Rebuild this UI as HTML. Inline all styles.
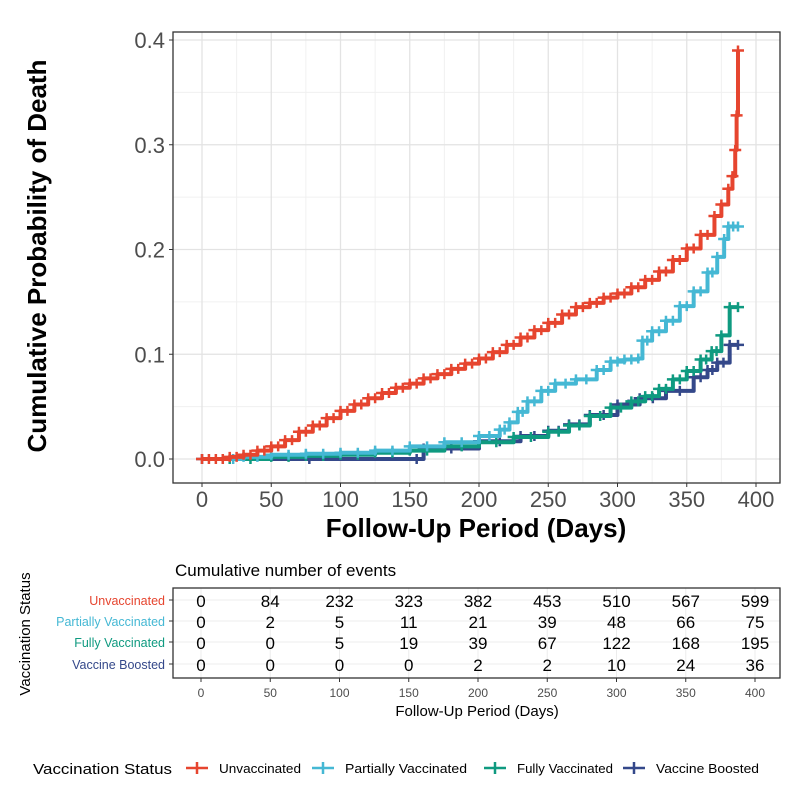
<!DOCTYPE html>
<html><head><meta charset="utf-8"><style>
body{margin:0;background:#fff;}
svg{display:block;font-family:"Liberation Sans",sans-serif;}
</style></head><body>
<svg id="c" width="800" height="800" viewBox="0 0 800 800"></svg>
<script>
const groups = ["Unvaccinated","Partially Vaccinated","Fully Vaccinated","Vaccine Boosted"];
const colors = ["#e6452f","#45b8d4","#0f9a80","#34488a"];
const unvacDays = [0,10,20,30,40,50,60,70,80,90,100,110,120,130,140,150,160,170,180,190,200,210,220,230,240,250,260,270,280,290,300,310,320,330,340,350,360,370,375,380,383,385,386,387];
const unvacProb = [0,0,0.002,0.004,0.008,0.012,0.018,0.026,0.032,0.039,0.046,0.052,0.058,0.063,0.068,0.072,0.077,0.081,0.086,0.091,0.096,0.102,0.109,0.116,0.123,0.130,0.138,0.145,0.149,0.154,0.158,0.164,0.171,0.179,0.190,0.201,0.214,0.232,0.243,0.258,0.270,0.295,0.328,0.390];
const partDays = [15,30,50,75,100,125,150,175,200,215,222,228,235,245,255,270,285,295,305,315,318,325,335,345,355,365,372,377,380,387];
const partProb = [0,0.002,0.004,0.005,0.006,0.008,0.012,0.016,0.022,0.028,0.035,0.045,0.055,0.065,0.072,0.076,0.085,0.093,0.095,0.096,0.113,0.122,0.132,0.146,0.160,0.178,0.193,0.210,0.222,0.222];
const fullDays = [20,50,75,100,125,150,175,200,225,250,265,280,295,310,320,330,340,350,360,368,375,381,387];
const fullProb = [0,0.002,0.003,0.004,0.006,0.008,0.012,0.016,0.021,0.026,0.032,0.041,0.049,0.055,0.060,0.067,0.076,0.084,0.095,0.103,0.118,0.145,0.145];
const boostDays = [0,155,160,200,230,250,265,280,300,316,335,355,365,372,381,387];
const boostProb = [0,0,0.010,0.017,0.022,0.027,0.033,0.042,0.052,0.058,0.065,0.078,0.085,0.092,0.109,0.109];
const xTicks = [0,50,100,150,200,250,300,350,400];
const yTicks = [0,0.1,0.2,0.3,0.4];
const yTickLabels = ["0.0","0.1","0.2","0.3","0.4"];
const unvacCounts = [0,84,232,323,382,453,510,567,599];
const partCounts = [0,2,5,11,21,39,48,66,75];
const fullCounts = [0,0,5,19,39,67,122,168,195];
const boostCounts = [0,0,0,0,2,2,10,24,36];
const tableCounts = [unvacCounts,partCounts,fullCounts,boostCounts];

const NS="http://www.w3.org/2000/svg";
const svg=document.getElementById('c');
function el(tag,attrs,parent){const e=document.createElementNS(NS,tag);for(const k in attrs)e.setAttribute(k,attrs[k]);(parent||svg).appendChild(e);return e;}
const X=d=>202+d*(756-202)/400;
const Y=p=>459-p*(459-40)/0.4;
const TX=d=>201+d*(755-201)/400;

const L=173,R=780,T=32,B=483;
let bg=el('rect',{x:L,y:T,width:R-L,height:B-T,fill:'#fff'});

for(let i=0;i<xTicks.length-1;i++){const m=(xTicks[i]+xTicks[i+1])/2;el('line',{x1:X(m),x2:X(m),y1:T,y2:B,stroke:'#f0f0f0','stroke-width':1});}
for(let i=-1;i<yTicks.length;i++){const m=i<0?-0.05:yTicks[i]+0.05;if(Y(m)>T&&Y(m)<B)el('line',{x1:L,x2:R,y1:Y(m),y2:Y(m),stroke:'#f0f0f0','stroke-width':1});}
xTicks.forEach(t=>el('line',{x1:X(t),x2:X(t),y1:T,y2:B,stroke:'#e3e3e3','stroke-width':1.3}));
yTicks.forEach(t=>el('line',{x1:L,x2:R,y1:Y(t),y2:Y(t),stroke:'#e3e3e3','stroke-width':1.3}));

const series=[[unvacDays,unvacProb],[partDays,partProb],[fullDays,fullProb],[boostDays,boostProb]];
const names=['unvaccinated','partially-vaccinated','fully-vaccinated','vaccine-boosted'];
function mark(g,x,y,c){
 const m=el('path',{d:`M${x-6},${y}H${x+6}M${x},${y-5}V${y+5}`,stroke:c,'stroke-width':2.5},g);
 
}
[3,2,1,0].forEach(si=>{
 const [d,p]=series[si];
 let path=`M${X(d[0])},${Y(p[0])}`;
 for(let i=1;i<d.length;i++){path+=`H${X(d[i])}V${Y(p[i])}`;}
 const g=el('g',{});
 
 el('path',{d:path,fill:'none',stroke:colors[si],'stroke-width':4,'stroke-linejoin':'round'},g);
 for(let i=0;i<d.length;i++){
  mark(g,X(d[i]),Y(p[i]),colors[si]);
  if(i<d.length-1 && d[i+1]-d[i]>6) mark(g,(X(d[i])+X(d[i+1]))/2,Y(p[i]),colors[si]);
 }
});
el('rect',{x:L,y:T,width:R-L,height:B-T,fill:'none',stroke:'#333','stroke-width':1.3});

xTicks.forEach(t=>{el('line',{x1:X(t),x2:X(t),y1:B,y2:B+4,stroke:'#333'});
 const tx=el('text',{x:X(t),y:B+24,'text-anchor':'middle','font-size':22,fill:'#4d4d4d'});tx.textContent=t;
 });
yTicks.forEach((t,i)=>{el('line',{x1:L-4,x2:L,y1:Y(t),y2:Y(t),stroke:'#333'});
 const tx=el('text',{x:L-8,y:Y(t)+8,'text-anchor':'end','font-size':22,fill:'#4d4d4d'});tx.textContent=yTickLabels[i];
 });
let xt=el('text',{x:476,y:537,'text-anchor':'middle','font-size':26,'font-weight':'bold'});xt.textContent='Follow-Up Period (Days)';

let yt=el('text',{x:0,y:0,'text-anchor':'middle','font-size':26,'font-weight':'bold',transform:'translate(46,256) rotate(-90)'});yt.textContent='Cumulative Probability of Death';


const tT=588,tB=678,rowsY=[600,621,642,664];
let tt=el('text',{x:175,y:576,'font-size':17});tt.textContent='Cumulative number of events';

xTicks.forEach(t=>el('line',{x1:TX(t),x2:TX(t),y1:tT,y2:tB,stroke:'#ececec'}));
rowsY.forEach(y=>el('line',{x1:L,x2:R,y1:y,y2:y,stroke:'#ececec'}));
el('rect',{x:L,y:tT,width:R-L,height:tB-tT,fill:'none',stroke:'#333','stroke-width':1.3});
tableCounts.forEach((row,ri)=>{
 row.forEach((v,ci)=>{const tx=el('text',{x:TX(xTicks[ci]),y:rowsY[ri]+7,'text-anchor':'middle','font-size':17});tx.textContent=v;
  });
 el('line',{x1:L-4,x2:L,y1:rowsY[ri],y2:rowsY[ri],stroke:'#333'});
 const lb=el('text',{x:L-8,y:rowsY[ri]+5,'text-anchor':'end','font-size':12.5,fill:colors[ri]});lb.textContent=groups[ri];
 
});
xTicks.forEach(t=>{el('line',{x1:TX(t),x2:TX(t),y1:tB,y2:tB+4,stroke:'#333'});
 const tx=el('text',{x:TX(t),y:tB+19,'text-anchor':'middle','font-size':12,fill:'#4d4d4d'});tx.textContent=t;
 });
let tx2=el('text',{x:477,y:716,'text-anchor':'middle','font-size':15});tx2.textContent='Follow-Up Period (Days)';

let ty2=el('text',{x:0,y:0,'text-anchor':'middle','font-size':15,transform:'translate(30,634) rotate(-90)'});ty2.textContent='Vaccination Status';


let lt=el('text',{x:33,y:774,'font-size':15,textLength:139,lengthAdjust:'spacingAndGlyphs'});lt.textContent='Vaccination Status';

const legX=[186,312,484,623],legW=[82,122,96,103];
groups.forEach((g,i)=>{
 const x=legX[i];
 const gg=el('g',{});
 el('path',{d:`M${x},768H${x+22}M${x+11},762V774`,stroke:colors[i],'stroke-width':2.5},gg);
 const t=el('text',{x:x+33,y:773,'font-size':13,textLength:legW[i],lengthAdjust:'spacingAndGlyphs'},gg);t.textContent=g;
});
</script>
</body></html>
